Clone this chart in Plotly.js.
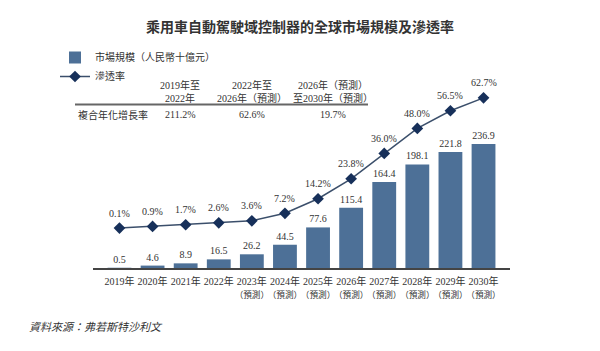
<!DOCTYPE html>
<html><head><meta charset="utf-8">
<script src="https://cdn.plot.ly/plotly-3.0.1.min.js"></script>
<style>html,body{margin:0;padding:0;background:#fff}#c{width:600px;height:351px}</style>
</head><body><div id="c"></div>
<script>
const years = ['2019年','2020年','2021年','2022年','2023年','2024年','2025年','2026年','2027年','2028年','2029年','2030年'];
const forecastNote = '（預測）';
const forecastFlags = [false, false, false, false, true, true, true, true, true, true, true, true];
const tickLabels = years.map((y, i) => forecastFlags[i] ? y + '<br><span style="font-size:8.6px">' + forecastNote + '</span>' : y);
const marketSize = [0.5, 4.6, 8.9, 16.5, 26.2, 44.5, 77.6, 115.4, 164.4, 198.1, 221.8, 236.9];
const penetration = [0.1, 0.9, 1.7, 2.6, 3.6, 7.2, 14.2, 23.8, 36.0, 48.0, 56.5, 62.7];
const cagrPeriods = ['2019年至<br>2022年', '2022年至<br>2026年（預測）', '2026年（預測）<br>至2030年（預測）'];
const cagrValues = ['211.2%', '62.6%', '19.7%'];
const cagrRowLabel = '複合年化增長率';

const FONT = 'Liberation Serif, "Noto Sans CJK TC", serif';
const L = 93, R = 510, T = 60, B = 268;
const px = x => (x - L) / (R - L);
const py = y => (B - y) / (B - T);

const annotations = [];
penetration.forEach((v, i) => annotations.push({
  x: years[i], y: v, xref: 'x', yref: 'y2', text: v.toFixed(1) + '%',
  showarrow: false, yshift: 15, font: {family: FONT, size: 10, color: '#333'}
}));
const colX = [180, 252, 333];
cagrPeriods.forEach((t, i) => annotations.push({
  x: px(colX[i]), y: py(91), xref: 'paper', yref: 'paper', xanchor: 'center', yanchor: 'middle', text: t,
  showarrow: false, font: {family: FONT, size: 10, color: '#333'}, align: 'center'
}));
cagrValues.forEach((t, i) => annotations.push({
  x: px(colX[i]), y: py(115), xref: 'paper', yref: 'paper', xanchor: 'center', yanchor: 'middle', text: t,
  showarrow: false, font: {family: FONT, size: 10, color: '#333'}
}));
annotations.push({x: px(76), y: py(115), xref: 'paper', yref: 'paper', xanchor: 'left', yanchor: 'middle',
  text: cagrRowLabel, showarrow: false, font: {family: FONT, size: 10, color: '#333'}});
annotations.push({x: px(27), y: py(327), xref: 'paper', yref: 'paper', xanchor: 'left', yanchor: 'middle',
  text: '<i>資料來源：弗若斯特沙利文</i>', showarrow: false,
  font: {family: FONT, size: 11, color: '#333'}});

const data = [
  {type: 'bar', name: '市場規模（人民幣十億元）', x: years, y: marketSize,
   marker: {color: '#4d7097'}, width: 0.72,
   text: marketSize.map(v => v.toFixed(1)), textposition: 'outside', cliponaxis: false, constraintext: 'none',
   textfont: {family: FONT, size: 10, color: '#333'}, hoverinfo: 'skip'},
  {type: 'scatter', mode: 'lines+markers', name: '滲透率', x: years, y: penetration, yaxis: 'y2',
   line: {color: '#3b4f6b', width: 1.5},
   marker: {symbol: 'diamond', size: 9, color: '#17305a'}, cliponaxis: false, hoverinfo: 'skip'}
];

const layout = {
  width: 600, height: 351,
  margin: {l: L, r: 600 - R, t: T, b: 351 - B, autoexpand: false},
  paper_bgcolor: '#fff', plot_bgcolor: '#fff',
  title: {text: '<b>乘用車自動駕駛域控制器的全球市場規模及滲透率</b>', x: 0.5, xanchor: 'center', y: 1 - 27/351, yanchor: 'middle',
          font: {family: '"Noto Sans CJK TC", sans-serif', size: 14, color: '#333'}},
  font: {family: FONT, color: '#333'},
  showlegend: true,
  legend: {xref: 'container', yref: 'container', x: 55/600, y: 1 - 43/351, xanchor: 'left', yanchor: 'top',
           font: {family: FONT, size: 10, color: '#333'}, traceorder: 'normal', bgcolor: 'rgba(0,0,0,0)',
           tracegroupgap: 0},
  xaxis: {type: 'category', tickvals: years, ticktext: tickLabels, showline: true, linecolor: '#444', linewidth: 1.5,
          ticks: '', tickangle: 0, ticklabelstandoff: 3, showgrid: false,
          tickfont: {family: FONT, size: 10, color: '#333'}, fixedrange: true},
  yaxis: {range: [0, 397.7], visible: false, showgrid: false, zeroline: false},
  yaxis2: {range: [-19.1, 80.9], overlaying: 'y', visible: false, showgrid: false, zeroline: false},
  shapes: [{type: 'line', xref: 'paper', yref: 'paper', x0: px(75), x1: px(368), y0: py(104.5), y1: py(104.5),
            line: {color: '#666', width: 2}}],
  annotations: annotations
};
Plotly.newPlot('c', data, layout, {staticPlot: true, displayModeBar: false});
</script></body></html>
